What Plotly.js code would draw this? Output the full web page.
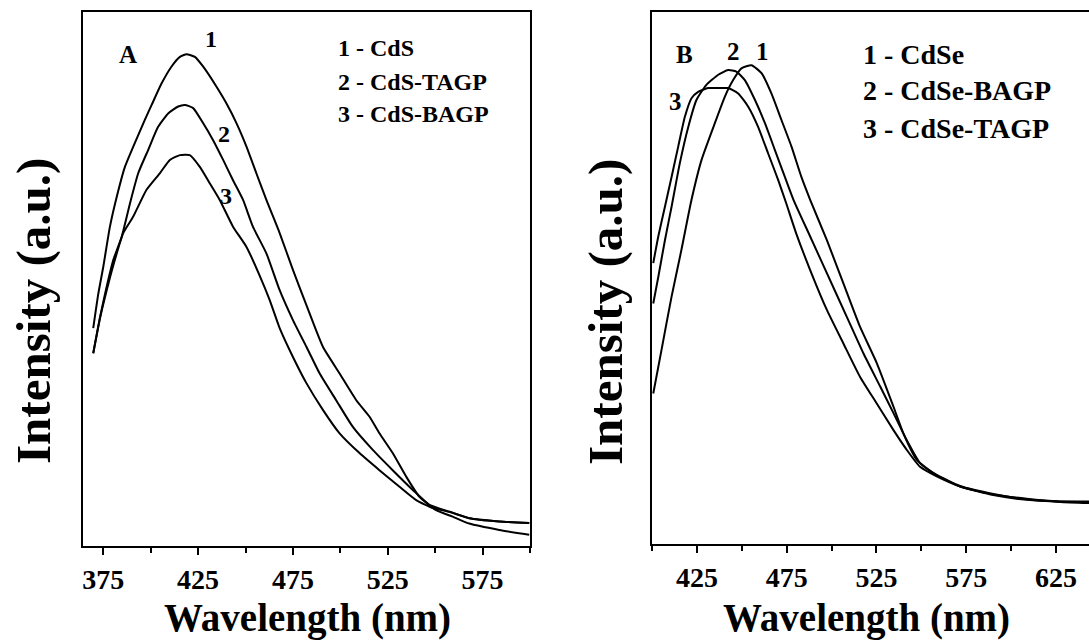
<!DOCTYPE html>
<html>
<head>
<meta charset="utf-8">
<script src="https://cdn.plot.ly/plotly-3.0.1.min.js"></script>
<style>html,body{margin:0;padding:0;background:#fff;overflow:hidden;}</style>
</head>
<body>
<div id="chart" style="width:1089px;height:641px;"></div>
<script>
// ---- Panel A (CdS) ----
const aWl1 = [369.7,372.4,375.0,378.5,382.1,386.4,390.8,396.9,400.5,405.7,411.0,415.4,418.9,423.3,427.6,434.7,439.9,445.2,450.5,455.7,461.0,468.0,475.0,482.1,490.8,499.6,508.4,515.4,520.6,527.6,534.7,541.7,550.5,559.2,568.0,583.8,599.6];
const aCdS = [40.8,47.3,52.3,59.8,65.4,71.0,74.8,79.8,82.6,86.6,89.8,91.6,92.1,91.6,89.8,86.0,82.9,79.2,74.8,69.8,64.8,58.6,51.7,45.1,37.3,32.3,27.3,24.2,21.1,17.4,13.0,9.2,6.7,5.5,4.2,3.0,2.1];
const aWl2 = [369.7,373.3,376.8,380.3,384.7,389.1,393.4,398.7,403.9,409.2,414.5,418.0,422.4,427.6,432.9,438.2,443.4,448.7,453.9,461.0,468.0,475.0,482.1,489.1,497.8,506.6,517.1,527.6,538.2,547.0,557.5,568.0,583.8,599.6];
const aCdSTAGP = [36.1,42.9,48.6,53.6,57.9,64.2,69.8,74.2,78.5,81.0,82.3,82.6,82.0,79.2,76.0,72.3,68.5,64.8,59.8,54.8,47.9,42.3,37.3,32.3,27.3,22.3,18.0,14.2,10.5,7.7,6.4,5.2,4.6,4.3];
const aWl3 = [369.7,373.3,376.8,380.3,385.5,390.8,397.8,404.8,410.1,415.4,420.6,425.9,431.2,436.4,443.4,450.5,457.5,462.7,468.0,475.0,482.1,490.8,499.6,510.1,520.6,531.2,540.0,548.7,557.5,568.0,583.8,599.6];
const aCdSBAGP = [36.1,42.7,47.9,52.6,58.6,61.7,66.7,69.8,72.3,73.2,73.2,71.0,67.9,64.8,59.8,56.0,50.6,46.1,40.8,35.4,30.5,25.5,21.1,17.4,14.2,11.1,8.6,7.1,6.4,5.2,4.6,4.3];

// ---- Panel B (CdSe) ----
const bWl1 = [400.7,405.3,410.9,416.4,422.0,427.6,435.0,440.6,445.2,449.8,455.4,461.0,466.5,472.1,477.7,483.2,488.1,497.4,506.6,515.9,525.2,534.5,540.0,547.5,556.7,571.6,590.1,608.7,627.3,643.4];
const bCdSe = [28.3,36.5,46.5,55.3,64.7,72.2,79.1,84.1,87.2,89.4,90.0,88.5,84.7,79.7,74.7,69.0,64.7,57.1,49.0,40.8,34.0,25.8,20.8,15.8,13.3,10.8,9.3,8.5,8.0,7.9];
const bWl2 = [400.7,403.5,407.2,410.9,415.5,420.2,424.8,430.3,436.9,442.4,447.0,451.7,457.3,462.9,468.4,474.0,478.8,488.1,497.4,508.5,517.8,527.1,534.5,541.9,549.3,558.6,571.6,590.1,608.7,627.3,643.4];
const bCdSeBAGP = [45.2,50.2,57.1,63.4,71.6,78.4,83.5,86.3,88.2,89.1,88.8,87.2,83.5,79.1,74.1,69.0,64.7,57.8,50.9,42.7,35.8,29.6,24.6,19.5,15.2,13.0,10.9,9.4,8.4,7.9,7.7];
const bWl3 = [400.7,403.5,407.2,410.9,414.6,418.3,422.0,425.7,431.3,436.9,442.4,448.0,453.6,459.1,464.7,470.3,474.7,480.3,488.1,497.4,506.6,515.9,525.2,534.5,541.9,549.3,558.6,571.6,590.1,608.7,627.3,643.4];
const bCdSeTAGP = [52.8,57.8,63.4,69.0,74.7,80.3,83.8,85.0,85.7,85.7,85.7,84.7,82.2,78.4,73.4,68.4,64.1,58.4,51.5,44.0,37.7,31.4,26.4,21.4,17.7,14.5,12.7,10.8,9.2,8.3,8.0,8.0];

const aLegend = ["1 - CdS", "2 - CdS-TAGP", "3 - CdS-BAGP"];
const bLegend = ["1 - CdSe", "2 - CdSe-BAGP", "3 - CdSe-TAGP"];
const xTitle = "Wavelength (nm)";
const yTitle = "Intensity (a.u.)";

const SERIF = '"Liberation Serif", "Times New Roman", Times, serif';
const lineStyle = {color: '#000', width: 2, shape: 'spline', smoothing: 0.5};

function tr(x, y, xa, ya, name) {
  return {x: x, y: y, xaxis: xa, yaxis: ya, type: 'scatter', mode: 'lines', name: name,
          line: lineStyle, showlegend: false, hoverinfo: 'x+y'};
}

const data = [
  tr(aWl1, aCdS, 'x', 'y', aLegend[0]),
  tr(aWl2, aCdSTAGP, 'x', 'y', aLegend[1]),
  tr(aWl3, aCdSBAGP, 'x', 'y', aLegend[2]),
  tr(bWl1, bCdSe, 'x2', 'y2', bLegend[0]),
  tr(bWl2, bCdSeBAGP, 'x2', 'y2', bLegend[1]),
  tr(bWl3, bCdSeTAGP, 'x2', 'y2', bLegend[2])
];

const W = 1089, H = 641;
function px(x) { return x / W; }
function py(y) { return 1 - y / H; }

const tickFont = {family: SERIF, size: 28, color: '#000', weight: 700};

function xAxis(domain, range, tick0) {
  return {
    domain: domain, range: range, showline: true, linecolor: '#000', linewidth: 2,
    mirror: true, ticks: 'outside', ticklen: 7, tickwidth: 2, tickcolor: '#000',
    tick0: tick0, dtick: 50, tickfont: tickFont, showgrid: false, zeroline: false,
    minor: {tick0: tick0, dtick: 25, ticks: 'outside', ticklen: 5, tickwidth: 2, tickcolor: '#000', showgrid: false},
    automargin: false
  };
}
function yAxis(domain, mirror) {
  return {
    domain: domain, range: [0, 100], showline: true, linecolor: '#000', linewidth: 2,
    mirror: mirror, ticks: '', showticklabels: false, showgrid: false, zeroline: false,
    automargin: false
  };
}

function ann(text, x, y, size, anchor, angle, yanchor) {
  return {text: text, x: px(x), y: py(y), xref: 'paper', yref: 'paper', showarrow: false,
          xanchor: anchor || 'center', yanchor: yanchor || 'middle', textangle: angle || 0,
          borderpad: 0,
          font: {family: SERIF, size: size, color: '#000', weight: 700}};
}

const annotations = [
  ann(xTitle, 307, 641, 39, 'center', 0, 'bottom'),
  ann(xTitle, 866, 641, 39, 'center', 0, 'bottom'),
  ann(yTitle, 33, 311, 49, 'center', -90),
  ann(yTitle, 605, 312, 49, 'center', -90),
  ann('A', 128, 54, 25),
  ann('1', 211, 39, 24),
  ann('2', 224, 134, 24),
  ann('3', 226, 196, 24),
  ann(aLegend[0], 337, 48, 24, 'left'),
  ann(aLegend[1], 337, 82, 24, 'left'),
  ann(aLegend[2], 337, 114, 24, 'left'),
  ann('B', 684, 54, 25),
  ann('2', 733, 51, 25),
  ann('1', 762, 51, 25),
  ann('3', 675, 101, 25),
  ann(bLegend[0], 862, 55, 28, 'left'),
  ann(bLegend[1], 862, 91, 28, 'left'),
  ann(bLegend[2], 862, 129, 28, 'left')
];

const layout = {
  width: W, height: H,
  margin: {l: 0, r: 0, t: 0, b: 0, pad: 0},
  paper_bgcolor: '#fff', plot_bgcolor: '#fff',
  showlegend: false,
  xaxis: Object.assign(xAxis([px(83), px(530)], [364.3, 600], 375), {anchor: 'y'}),
  yaxis: Object.assign(yAxis([py(546), py(12)], true), {anchor: 'x'}),
  xaxis2: Object.assign(xAxis([px(652), 1], [400, 643.4], 425), {anchor: 'y2'}),
  yaxis2: Object.assign(yAxis([py(544), py(12)], false), {anchor: 'x2'}),
  annotations: annotations
};

Plotly.newPlot('chart', data, layout, {displayModeBar: false, staticPlot: true});
</script>
</body>
</html>
